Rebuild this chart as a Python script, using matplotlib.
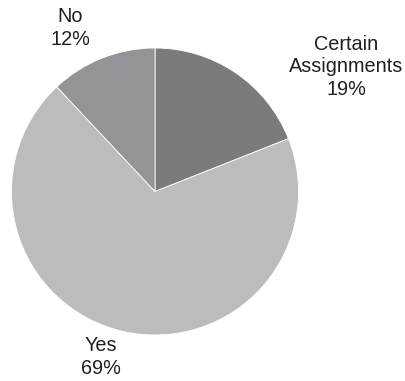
import matplotlib.pyplot as plt

labels = ['Certain\nAssignments', 'Yes', 'No']
shares = [19, 69, 12]
colors = ['#7a7b7d', '#bbbcbe', '#939497']

# where each label block sits (pixels, origin top-left)
label_pos = [(346, 67), (101, 357), (70, 28)]


def create_pie(values):
    fig = plt.figure(figsize=(4.06, 3.81), dpi=100)
    ax = fig.add_axes([0, 0, 1, 1])

    ax.pie(values, colors=colors, startangle=90, counterclock=False,
           center=(155, 381 - 191.5), radius=143.5,
           wedgeprops={'edgecolor': 'white', 'linewidth': 0.6})

    for lab, val, (x, y) in zip(labels, values, label_pos):
        ax.text(x, 381 - y, f'{lab}\n{val}%', ha='center', va='center',
                fontsize=14.3, family='Liberation Sans', color='#231f20',
                linespacing=1.25)

    ax.set_xlim(0, 406)
    ax.set_ylim(0, 381)
    ax.axis('off')
    fig.savefig('out.png', dpi=100)


if __name__ == "__main__":
    create_pie(shares)
